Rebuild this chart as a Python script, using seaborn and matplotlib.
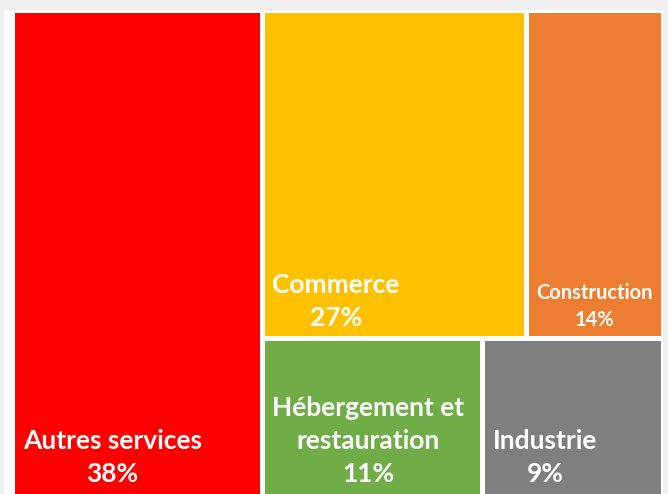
import matplotlib
matplotlib.use("Agg")
import matplotlib.pyplot as plt
import seaborn as sns

# ---- data ----
sectors = ["Autres services", "Commerce", "Construction", "Hébergement et\nrestauration", "Industrie"]
shares = [38, 27, 14, 11, 9]
colors = ["#FF0000", "#FFC000", "#ED7D31", "#70AD47", "#7F7F7F"]
font_sizes = [19, 19, 14.5, 19, 19]

sns.set_theme(style="white")
plt.rcParams["font.family"] = ["Lato", "DejaVu Sans"]

W, H = 668, 494
fig = plt.figure(figsize=(W / 100, H / 100), dpi=100)
fig.patch.set_facecolor("#EFEFEF")

# white panel behind the treemap
bg = fig.add_axes([4 / W, 0, (663 - 4) / W, (H - 10) / H])
bg.set_facecolor("white")
bg.set_xticks([])
bg.set_yticks([])
for s in bg.spines.values():
    s.set_visible(False)

ax = fig.add_axes([12.5 / W, -4 / H, (662.5 - 12.5) / W, (H - 10.5 + 4) / H])
ax.set_xlim(0, 1)
ax.set_ylim(0, 1)
ax.axis("off")

# ---- treemap layout computed from values ----
total = sum(shares)
a, c1, c2, c3, c4 = shares
w_first = a / total
rest_w = 1 - w_first
top_sum = c1 + c2
bot_sum = c3 + c4
rest_sum = top_sum + bot_sum
h_top = top_sum / rest_sum
h_bot = bot_sum / rest_sum

rects = [
    (0.0, 0.0, w_first, 1.0),
    (w_first, h_bot, rest_w * c1 / top_sum, h_top),
    (w_first + rest_w * c1 / top_sum, h_bot, rest_w * c2 / top_sum, h_top),
    (w_first, 0.0, rest_w * c3 / bot_sum, h_bot),
    (w_first + rest_w * c3 / bot_sum, 0.0, rest_w * c4 / bot_sum, h_bot),
]

for (x, y, w, h), col, name, val, fs in zip(rects, colors, sectors, shares, font_sizes):
    ax.bar(x, h, width=w, bottom=y, align="edge", color=col,
           edgecolor="white", linewidth=3.6)
    dy = 6 if y > 0 else 8.5
    ax.annotate(f"{name}\n{val}%", xy=(x, y), xytext=(7.5, dy),
                textcoords="offset points", ha="left", va="bottom",
                multialignment="center", color="white", fontsize=fs,
                fontweight="bold", linespacing=1.45)

fig.savefig("out.png", dpi=100, facecolor=fig.get_facecolor())
